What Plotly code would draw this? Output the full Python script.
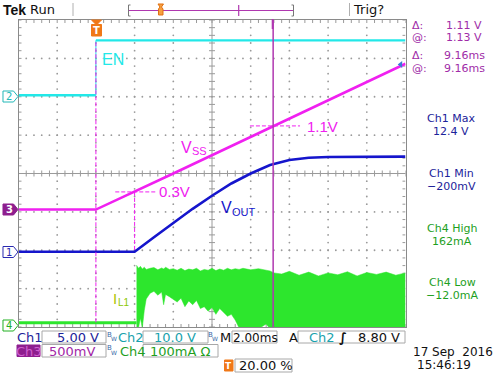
import plotly.graph_objects as go

W, H = 495, 373
X0, X1, Y0, Y1 = 18.5, 405.5, 20.0, 327.0   # graticule in px
FONT = "DejaVu Sans"
LBL = "Liberation Sans"

# ---------------- data (time in ms, trigger at t=0, 2 ms/div) ----------------
T_MIN, T_MAX = -4.0, 16.0
CH1_SCALE, CH1_POS = 5.0, 1.96     # V/div, position (div from bottom)
CH2_SCALE, CH2_POS = 10.0, 6.04
CH3_SCALE, CH3_POS = 0.5, 3.06
CH4_SCALE, CH4_POS = 100.0, 0.03   # mA/div

en_t = [-4.0, 0.0, 0.0, 16.0]
en_v = [0.0, 0.0, 14.3, 14.3]

vss_t = [-4.0, 0.0, 4.0, 8.0, 12.0, 16.0]
vss_v = [0.0, 0.0, 0.47, 0.95, 1.42, 1.90]

vout_t = [-4.0, 2.0, 3.0, 4.0, 5.0, 6.0, 7.0, 8.0, 9.0, 10.0, 11.0, 12.0, 16.0]
vout_v = [0.0, 0.0, 1.9, 3.8, 5.6, 7.3, 8.9, 10.2, 11.3, 11.95, 12.25, 12.35, 12.4]

il_pre_t = [-4.0, 2.1]
il_pre = [8.0, 8.0]
il_t = [2.10, 2.20, 2.30, 2.40, 2.50, 2.60, 2.80, 3.00, 3.20, 3.40, 3.50, 3.60, 3.80,
        4.00, 4.20, 4.40, 4.60, 4.80, 5.00, 5.20, 5.40, 5.60, 5.80, 6.00, 6.20, 6.40,
        6.60, 6.80, 7.00, 7.20, 7.40, 7.60, 8.00, 8.40, 8.80, 9.00, 9.20, 9.60, 10.0,
        10.5, 11.0, 11.5, 12.0, 12.5, 13.0, 13.5, 14.0, 14.5, 15.0, 15.5, 16.0]
il_hi = [158, 150, 155, 148, 153, 147, 150, 152, 146, 151, 148, 153, 147,
         149, 145, 150, 144, 148, 146, 150, 143, 147, 145, 150, 144, 148,
         145, 150, 146, 149, 147, 150, 146, 149, 145, 143, 138, 135, 142,
         132, 140, 130, 138, 133, 141, 130, 139, 134, 140, 132, 138]
il_lo = [-5, -5, 20, -5, 40, 70, 85, 90, 80, 88, 55, 82, 76,
         70, 62, 72, 50, 65, 55, 66, 45, 50, 38, 48, 30, 45,
         35, 25, 30, 15, -5, -8, -8, -8, 5, -8, -8, -8, -8,
         -8, -8, -8, -8, -8, -8, -8, -8, -8, -8, -8, -8]

cursor_t = 9.16
mark_03_y, mark_11_y = 3.52, 5.24

# ---------------- helpers ----------------
def dv(vals, pos, scale):
    return [pos + v / scale for v in vals]

def PX(x):
    return x / W

def PY(y):
    return 1 - y / H

MS_PX = (T_MAX - T_MIN) / (X1 - X0)
DIV_PX = 8.0 / (Y1 - Y0)

C_CYAN = "#22e8e8"
C_MAG = "#f020f0"
C_BLUE = "#1515cc"
C_GREEN = "#2de62d"
C_CUR = "#b038b0"
C_GRID = "#9a9a9a"

fig = go.Figure()

# grid dots
gx, gy = [], []
for t in [-2, 0, 2, 4, 8, 10, 12, 14]:
    for k in range(1, 40):
        gx.append(t); gy.append(k * 0.2)
for y in [1, 2, 3, 5, 6, 7]:
    for k in range(1, 50):
        gx.append(T_MIN + k * 0.4); gy.append(y)
fig.add_trace(go.Scatter(x=gx, y=gy, mode="markers",
                         marker=dict(size=1.8, color=C_GRID), hoverinfo="skip"))

# ticks + centre cross
sx, sy = [], []
def seg(a, b, c, d):
    sx.extend([a, c, None]); sy.extend([b, d, None])
for k in range(0, 51):
    t = T_MIN + k * 0.4
    seg(t, 8, t, 8 - 3 * DIV_PX)
    seg(t, 0, t, 3 * DIV_PX)
    seg(t, 4 - 3 * DIV_PX, t, 4 + 3 * DIV_PX)
for k in range(0, 41):
    y = k * 0.2
    seg(T_MIN, y, T_MIN + 3 * MS_PX, y)
    seg(T_MAX, y, T_MAX - 3 * MS_PX, y)
    seg(6 - 3 * MS_PX, y, 6 + 3 * MS_PX, y)
seg(T_MIN, 4, T_MAX, 4)
seg(6, 0, 6, 8)
fig.add_trace(go.Scatter(x=sx, y=sy, mode="lines",
                         line=dict(color=C_GRID, width=1), hoverinfo="skip"))

# IL1 band
fig.add_trace(go.Scatter(x=il_pre_t, y=dv(il_pre, CH4_POS, CH4_SCALE), mode="lines",
                         line=dict(color=C_GREEN, width=3), hoverinfo="skip"))
fig.add_trace(go.Scatter(x=il_t, y=dv(il_lo, CH4_POS, CH4_SCALE), mode="lines",
                         line=dict(color=C_GREEN, width=0.5), hoverinfo="skip"))
fig.add_trace(go.Scatter(x=il_t, y=dv(il_hi, CH4_POS, CH4_SCALE), mode="lines",
                         line=dict(color=C_GREEN, width=0.5), fill="tonexty",
                         fillcolor=C_GREEN, hoverinfo="skip"))

# Vss, Vout, EN
vss_y = dv(vss_v, CH3_POS, CH3_SCALE)
fig.add_trace(go.Scatter(x=vss_t, y=vss_y, mode="lines",
                         line=dict(color=C_MAG, width=2.6), hoverinfo="skip"))
fig.add_trace(go.Scatter(x=vout_t, y=dv(vout_v, CH1_POS, CH1_SCALE), mode="lines",
                         line=dict(color=C_BLUE, width=2.6), hoverinfo="skip"))
en_y = dv(en_v, CH2_POS, CH2_SCALE)
fig.add_trace(go.Scatter(x=en_t[:2], y=en_y[:2], mode="lines",
                         line=dict(color=C_CYAN, width=2.4), hoverinfo="skip"))
fig.add_trace(go.Scatter(x=en_t[1:3], y=en_y[1:3], mode="lines",
                         line=dict(color=C_CYAN, width=1), hoverinfo="skip"))
fig.add_trace(go.Scatter(x=en_t[2:], y=en_y[2:], mode="lines",
                         line=dict(color=C_CYAN, width=2.4), hoverinfo="skip"))
# cursor readout marker at right end of Vss
fig.add_trace(go.Scatter(x=[vss_t[-1] - 0.25], y=[vss_y[-1] - 0.02], mode="markers",
                         marker=dict(symbol="triangle-left", size=6, color="#3a7ad8"),
                         hoverinfo="skip"))

shapes = []
dash = dict(color=C_MAG, width=1, dash="4px,2px")
shapes.append(dict(type="line", xref="x", yref="y", x0=0, x1=0, y0=en_y[2] - 0.05,
                   y1=CH4_POS + il_pre[0] / CH4_SCALE, line=dash, layer="above"))
shapes.append(dict(type="line", xref="x", yref="y", x0=1.0, x1=3.16, y0=mark_03_y,
                   y1=mark_03_y, line=dash, layer="above"))
shapes.append(dict(type="line", xref="x", yref="y", x0=2.0, x1=2.0, y0=mark_03_y,
                   y1=CH1_POS, line=dash, layer="above"))
shapes.append(dict(type="line", xref="x", yref="y", x0=7.96, x1=10.55, y0=mark_11_y,
                   y1=mark_11_y, line=dash, layer="above"))
shapes.append(dict(type="line", xref="x", yref="y", x0=cursor_t, x1=cursor_t, y0=0, y1=8,
                   line=dict(color=C_CUR, width=1.5), layer="above"))
shapes.append(dict(type="line", xref="paper", yref="paper", x0=PX(272.7), x1=PX(272.7),
                   y0=PY(19), y1=PY(29), line=dict(color=C_CUR, width=2)))

def path(pts):
    return "M " + " L ".join(f"{PX(a):.5f},{PY(b):.5f}" for a, b in pts) + " Z"

def rect(x0, y0, x1, y1, color="#a8a8a8", fill=None, width=1):
    d = dict(type="rect", xref="paper", yref="paper", x0=PX(x0), x1=PX(x1),
             y0=PY(y1), y1=PY(y0), line=dict(color=color, width=width))
    if fill:
        d["fillcolor"] = fill
    shapes.append(d)

def chmark(yc, color, filled):
    pts = [(3, yc - 5.5), (13.5, yc - 5.5), (18, yc), (13.5, yc + 5.5), (3, yc + 5.5)]
    shapes.append(dict(type="path", xref="paper", yref="paper", path=path(pts),
                       line=dict(color=color, width=1),
                       fillcolor=color if filled else "white"))
chmark(96.5, "#22b8b8", False)
chmark(209.5, "#8e1e8e", True)
chmark(252, "#2a2ab0", False)
chmark(325.5, "#22b022", False)

shapes.append(dict(type="path", xref="paper", yref="paper",
                   path=path([(91.5, 20), (101.5, 20), (96.5, 25)]),
                   fillcolor="#f07818", line=dict(color="#f07818", width=1)))
rect(91.5, 24.5, 101.5, 36, color="#f07818", fill="#f07818")

# top bar
shapes.append(dict(type="line", xref="paper", yref="paper", x0=PX(73), x1=PX(73),
                   y0=PY(3), y1=PY(16), line=dict(color="#b0b0b0", width=1)))
shapes.append(dict(type="line", xref="paper", yref="paper", x0=PX(349.5), x1=PX(349.5),
                   y0=PY(3), y1=PY(16), line=dict(color="#b0b0b0", width=1)))
shapes.append(dict(type="line", xref="paper", yref="paper", x0=PX(129), x1=PX(293),
                   y0=PY(10.5), y1=PY(10.5), line=dict(color=C_CUR, width=1.2)))
for xb, d in [(128.5, 1), (293.5, -1)]:
    shapes.append(dict(type="path", xref="paper", yref="paper",
                       path=f"M {PX(xb + 2*d):.5f},{PY(5):.5f} L {PX(xb):.5f},{PY(5):.5f} "
                            f"L {PX(xb):.5f},{PY(16):.5f} L {PX(xb + 2*d):.5f},{PY(16):.5f}",
                       line=dict(color="#777", width=1)))
shapes.append(dict(type="line", xref="paper", yref="paper", x0=PX(238.7), x1=PX(238.7),
                   y0=PY(5), y1=PY(16), line=dict(color=C_CUR, width=1.2)))
shapes.append(dict(type="path", xref="paper", yref="paper",
                   path=path([(158, 4), (163.5, 4), (161.5, 7), (163, 9), (163, 15),
                              (158.5, 15), (158.5, 9), (160, 7)]),
                   fillcolor="#f7a040", line=dict(color="#e07010", width=1)))

# bottom boxes
rect(42, 331, 106, 343)
rect(143, 331, 208, 343)
rect(232, 331, 277, 343)
rect(298, 331, 405, 343)
rect(42, 344.5, 106, 357)
rect(143, 344.5, 218, 357)
rect(235, 359, 292, 372)
rect(17, 345, 40, 356.5, color="#8e1e8e", fill="#8e1e8e")
rect(224.5, 360, 233, 371, color="#f07818", fill="#f07818")

anns = []
def ann(text, x, y, color, size, xa="center", family=FONT, bold=False):
    if bold:
        text = "<b>" + text + "</b>"
    anns.append(dict(text=text, x=PX(x), y=PY(y), xref="paper", yref="paper",
                     xanchor=xa, yanchor="middle", showarrow=False, borderpad=0,
                     font=dict(color=color, size=size, family=family)))

ann("Tek", 2, 10, "#111", 14, "left", family=LBL, bold=True)
ann("Run", 29, 9.5, "#111", 13, "left")
ann("Trig?", 352, 9.5, "#111", 13, "left")
ann("T", 96.5, 30.5, "white", 10, bold=True)
ann("T", 228.8, 365.5, "white", 9, bold=True)

ann("2", 9, 96.5, "#22b8b8", 10)
ann("3", 9, 209.5, "white", 10, bold=True)
ann("1", 9, 252, "#2a2ab0", 10)
ann("4", 9, 325.5, "#22b022", 10)

# trace labels (main letter + subscript)
ann("EN", 113, 59, C_CYAN, 16, family=LBL)
ann("V", 180, 147, C_MAG, 16, "left", family=LBL)
ann("SS", 191, 151.5, C_MAG, 11, "left", family=LBL)
ann("0.3V", 174, 191.5, C_MAG, 15, family=LBL)
ann("1.1V", 322, 126, C_MAG, 15, family=LBL)
ann("V", 220, 207, C_BLUE, 16, "left", family=LBL)
ann("OUT", 231, 211.5, C_BLUE, 11, "left", family=LBL)
ann("I", 112, 298, "#b0c200", 15, "left", family=LBL)
ann("L1", 117, 302.5, "#8cc800", 10, "left", family=LBL)

# right side readouts
PUR = "#a02ca8"
RS = 11
ann("Δ:", 411, 25, PUR, RS, "left")
ann("1.11 V", 483, 25, PUR, RS, "right")
ann("@:", 411, 37.5, PUR, RS, "left")
ann("1.13 V", 483, 37.5, PUR, RS, "right")
ann("Δ:", 411, 56, PUR, RS, "left")
ann("9.16ms", 486, 56, PUR, RS, "right")
ann("@:", 411, 68.5, PUR, RS, "left")
ann("9.16ms", 486, 68.5, PUR, RS, "right")
DB = "#1c239a"
ann("Ch1 Max", 451, 118.5, DB, RS)
ann("12.4 V", 451, 131.5, DB, RS)
ann("Ch1 Min", 451, 173, DB, RS)
ann("−200mV", 451, 186, DB, RS)
GR = "#1ea01e"
ann("Ch4 High", 452, 228, GR, RS)
ann("162mA", 452, 241, GR, RS)
ann("Ch4 Low", 452, 282.5, GR, RS)
ann("−12.0mA", 452, 295.5, GR, RS)

# bottom bar
ann("Ch1", 16, 337.5, "#1c239a", 13, "left")
ann("5.00 V", 100, 337.5, "#1c239a", 13, "right")
ann("B", 109, 334.5, "#3a6aa8", 7)
ann("W", 113.5, 338.5, "#3a6aa8", 6)
ann("Ch2", 117, 337.5, "#18a2ad", 13, "left")
ann("10.0 V", 197, 337.5, "#18a2ad", 13, "right")
ann("B", 210, 334.5, "#3a6aa8", 7)
ann("W", 214.5, 338.5, "#3a6aa8", 6)
ann("M", 218.5, 337.5, "#111", 13, "left")
ann("2.00ms", 255, 337.5, "#111", 12)
ann("A", 293, 337.5, "#111", 13)
ann("Ch2", 308, 337.5, "#18a2ad", 13, "left")
ann("∫", 343, 337.5, "#111", 13, bold=True)
ann("8.80 V", 401, 337.5, "#111", 13, "right")
ann("Ch3", 28.5, 351, "#d060d0", 13)
ann("500mV", 96, 351, "#a226a6", 13, "right")
ann("B", 109, 348, "#3a6aa8", 7)
ann("W", 113.5, 352, "#3a6aa8", 6)
ann("Ch4", 119, 351, "#1ea01e", 13, "left")
ann("100mA Ω", 212, 351, "#1ea01e", 13, "right")
ann("20.00 %", 238, 365.5, "#111", 13, "left")
ann("17 Sep  2016", 494, 352, "#111", 12, "right")
ann("15:46:19", 416, 364.5, "#111", 12, "left")

fig.update_layout(
    width=W, height=H, margin=dict(l=0, r=0, t=0, b=0),
    paper_bgcolor="white", plot_bgcolor="white", showlegend=False,
    shapes=shapes, annotations=anns,
    xaxis=dict(domain=[PX(X0), PX(X1)], range=[T_MIN, T_MAX], showgrid=False,
               zeroline=False, showticklabels=False, ticks="", showline=True,
               mirror=True, linecolor="#8a8a8a", linewidth=1, fixedrange=True),
    yaxis=dict(domain=[PY(Y1), PY(Y0)], range=[0, 8], showgrid=False,
               zeroline=False, showticklabels=False, ticks="", showline=True,
               mirror=True, linecolor="#8a8a8a", linewidth=1, fixedrange=True),
)
fig.write_html("out.html", config={"displayModeBar": False},
               post_script="document.body.style.margin='0px';document.body.style.overflow='hidden';")
